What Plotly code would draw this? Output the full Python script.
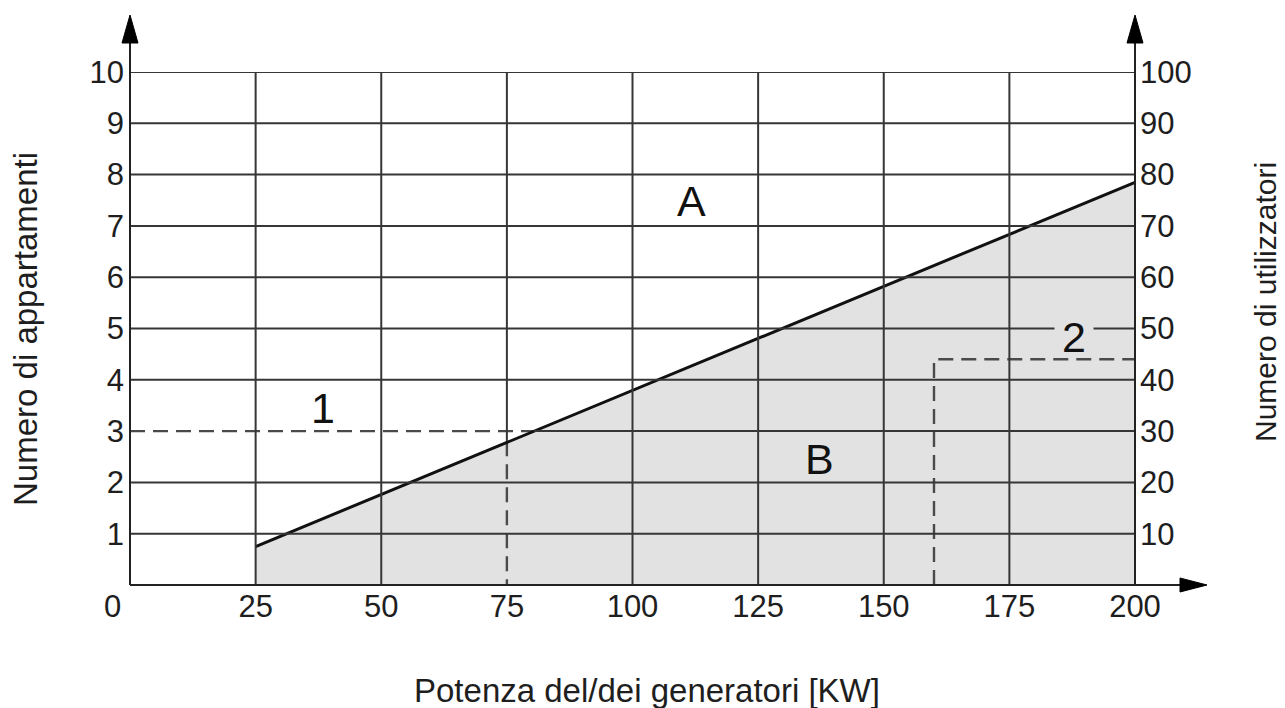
import plotly.graph_objects as go

# --- values ---------------------------------------------------------------
power_ticks = [25, 50, 75, 100, 125, 150, 175, 200]           # kW
flats_ticks = [1, 2, 3, 4, 5, 6, 7, 8, 9, 10]                 # apartments
users_ticks = [10, 20, 30, 40, 50, 60, 70, 80, 90, 100]        # users

limit_power = [25, 200]        # boundary between zone A and zone B
limit_flats = [0.75, 7.85]

ex1_h_power = [0, 80.4]        # example 1: 3 apartments
ex1_h_flats = [3, 3]
ex1_v_power = [75, 75]
ex1_v_flats = [2.8, 0]

ex2_power = [160, 160, 200]    # example 2
ex2_flats = [0, 4.4, 4.4]

zone_labels = ["A", "B", "1", "2"]
zone_power = [111.8, 137.3, 38.4, 187.9]
zone_flats = [7.49, 2.46, 3.45, 4.84]

# --- layout geometry (pixels) ---------------------------------------------
W, H = 1285, 708
L, R, T, B = 130, 1135, 72, 585
FONT = "Liberation Sans, Arial, Helvetica, sans-serif"
GRID = "#363636"
SHADE = "#e2e2e2"
TXT = "#1e1e1e"


def px(xp):
    return (xp - L) / (R - L)


def py(yp):
    return (B - yp) / (B - T)


fig = go.Figure()

# shaded zone B under the limit line
fig.add_trace(go.Scatter(
    x=limit_power, y=limit_flats, mode="lines", fill="tozeroy",
    fillcolor=SHADE, line=dict(width=0), hoverinfo="skip", showlegend=False))

# dashed guide lines
dash_style = dict(color="#4a4a4a", width=2.4, dash="15px,8px")
for xs, ys in [(ex1_h_power, ex1_h_flats), (ex1_v_power, ex1_v_flats),
               (ex2_power, ex2_flats)]:
    fig.add_trace(go.Scatter(x=xs, y=ys, mode="lines", line=dash_style,
                             hoverinfo="skip", showlegend=False))

# limit line
fig.add_trace(go.Scatter(
    x=limit_power, y=limit_flats, mode="lines",
    line=dict(color="#111111", width=3), hoverinfo="skip", showlegend=False))

# invisible trace to activate the right-hand axis
fig.add_trace(go.Scatter(x=[0], y=[0], yaxis="y2", mode="markers",
                         marker=dict(opacity=0), hoverinfo="skip",
                         showlegend=False))

shapes = []
grid_line = dict(color=GRID, width=2)
# vertical grid lines; the one under the vertical guide of example 1
# stops where the guide begins
for v in power_ticks:
    y_start = ex1_v_flats[0] if v == ex1_v_power[0] else 0
    shapes.append(dict(type="line", xref="x", yref="y", x0=v, x1=v,
                       y0=y_start, y1=10, line=grid_line, layer="above"))
# horizontal grid lines; the one under the horizontal guide of example 1
# starts where the guide ends
for v in flats_ticks:
    x_start = ex1_h_power[1] if v == ex1_h_flats[0] else 0
    shapes.append(dict(type="line", xref="x", yref="y", x0=x_start, x1=200,
                       y0=v, y1=v, line=grid_line, layer="above"))

# axes with arrows
axis_line = dict(color="#222222", width=2)
shapes.append(dict(type="line", xref="paper", yref="paper",
                   x0=px(L), x1=px(L), y0=py(B), y1=py(40), line=axis_line))
shapes.append(dict(type="line", xref="paper", yref="paper",
                   x0=px(R), x1=px(R), y0=py(B), y1=py(40), line=axis_line))
shapes.append(dict(type="line", xref="paper", yref="paper",
                   x0=px(L), x1=px(1185), y0=py(B), y1=py(B), line=axis_line))


def tri(p1, p2, p3):
    return "M {},{} L {},{} L {},{} Z".format(px(p1[0]), py(p1[1]), px(p2[0]), py(p2[1]),
                                            px(p3[0]), py(p3[1]))


for cx in (L, R):
    shapes.append(dict(type="path", xref="paper", yref="paper",
                       path=tri((cx, 15), (cx - 8, 43), (cx + 8, 43)),
                       fillcolor="#000000", line=dict(color="#000000", width=1)))
shapes.append(dict(type="path", xref="paper", yref="paper",
                   path=tri((1207, B), (1180, B - 7), (1180, B + 7)),
                   fillcolor="#000000", line=dict(color="#000000", width=1)))

annotations = []
for txt, xv, yv in zip(zone_labels, zone_power, zone_flats):
    a = dict(x=xv, y=yv, xref="x", yref="y", text=txt, showarrow=False,
             xanchor="center", yanchor="middle",
             font=dict(family=FONT, size=43, color="#111111"))
    if txt == "2":
        # label sits in a small gap of the grid line
        a.update(bgcolor=SHADE, borderpad=0, width=38, height=32)
    annotations.append(a)


def text_at(x, y, txt, size, angle=0):
    return dict(x=px(x), y=py(y), xref="paper", yref="paper", text=txt,
                showarrow=False, xanchor="center", yanchor="middle",
                textangle=angle, font=dict(family=FONT, size=size, color=TXT))


annotations.append(text_at(112, 607, "0", 31))
annotations.append(text_at(647, 690, "Potenza del/dei generatori [KW]", 33))
annotations.append(text_at(25, 329, "Numero di appartamenti", 33, -90))
annotations.append(text_at(1265, 302, "Numero di utilizzatori", 30, -90))

tick_font = dict(family=FONT, size=31, color=TXT)
fig.update_layout(
    width=W, height=H, autosize=False,
    margin=dict(l=L, r=W - R, t=T, b=H - B),
    paper_bgcolor="white", plot_bgcolor="white",
    showlegend=False,
    xaxis=dict(range=[0, 200], tickmode="array", tickvals=power_ticks,
               ticktext=[str(v) for v in power_ticks], showgrid=False,
               zeroline=False, showline=False, ticks="", tickfont=tick_font,
               fixedrange=True),
    yaxis=dict(range=[0, 10], tickmode="array", tickvals=flats_ticks,
               ticktext=[str(v) for v in flats_ticks], showgrid=False,
               zeroline=False, showline=False, ticks="", tickfont=tick_font,
               ticklabelstandoff=5, fixedrange=True),
    yaxis2=dict(range=[0, 100], overlaying="y", side="right", tickmode="array",
                tickvals=users_ticks, ticktext=[str(v) for v in users_ticks],
                showgrid=False, zeroline=False, showline=False, ticks="",
                tickfont=tick_font, ticklabelstandoff=4, fixedrange=True),
    shapes=shapes,
    annotations=annotations,
)

fig.write_html("out.html")
